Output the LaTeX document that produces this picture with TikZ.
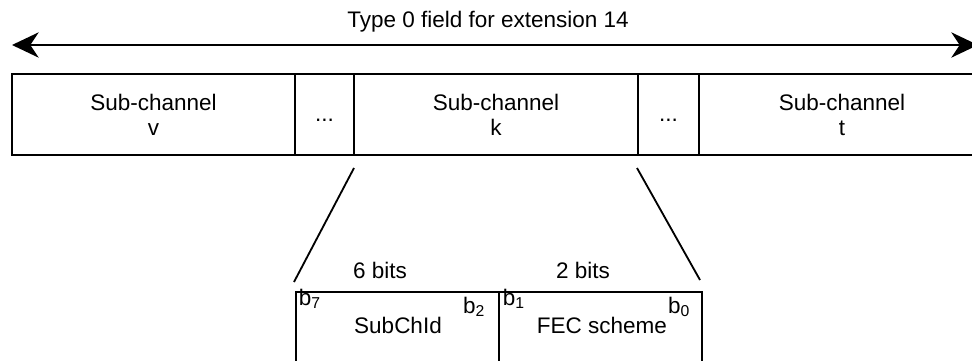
\documentclass[tikz,border=0pt]{standalone}
\usepackage{fontspec}
\setmainfont{Liberation Sans}
\usetikzlibrary{arrows.meta}

\begin{document}
\begin{tikzpicture}[x=0.025cm,y=-0.025cm,line width=1.3pt,
	font=\fontsize{16}{17.8}\selectfont,
	>={Stealth[length=19pt,width=18pt,inset=6pt]},
	field/.style={draw,rectangle,inner sep=0pt,align=center,minimum height=2.025cm},
	part/.style={draw,rectangle,inner sep=0pt,minimum width=5.075cm,minimum height=2.2cm},
	lbl/.style={inner sep=0pt,anchor=base}]

	\useasboundingbox (0,0) rectangle (972,361);
	\clip (0,0) rectangle (972,361);

	\node[lbl] (title) at (488,28) {Type 0 field for extension 14};
	\coordinate (al) at (12,45);
	\coordinate (ar) at (978,45);
	\draw[<->] (al) -- (ar);

	\node[field,minimum width=7.075cm] (subv)  at (153.5,114.5) {Sub-channel\\v};
	\node[field,minimum width=1.475cm] (dotsa) at (324.5,114.5) {};
	\node[field,minimum width=7.1cm]   (subk)  at (496,114.5)   {Sub-channel\\k};
	\node[field,minimum width=1.525cm] (dotsb) at (668.5,114.5) {};
	\node[field,minimum width=7.15cm]  (subt)  at (842,114.5)   {Sub-channel\\t};
	\node[lbl] (dotsatext) at (324.5,121) {...};
	\node[lbl] (dotsbtext) at (668.5,121) {...};

	\node[part] (subchid) at (397.5,336) {};
	\node[part] (fec)     at (600.5,336) {};

	\coordinate (kl) at (354,168);
	\coordinate (kr) at (637,168);
	\coordinate (pl) at (294,282);
	\coordinate (pr) at (700,280);
	\draw (kl) -- (pl);
	\draw (kr) -- (pr);

	\node[lbl] (sixbits) at (380,278) {6 bits};
	\node[lbl] (twobits) at (583,278) {2 bits};
	\node[lbl] (idtext)  at (398,333) {SubChId};
	\node[lbl] (fectext) at (602,333) {FEC scheme};

	\node[lbl,anchor=base west] (bseven) at (298,305) {b\textsubscript{7}};
	\node[lbl,anchor=base east] (btwo)   at (486,313) {b\textsubscript{2}};
	\node[lbl,anchor=base west] (bone)   at (502,305) {b\textsubscript{1}};
	\node[lbl,anchor=base east] (bzero)  at (691,313) {b\textsubscript{0}};

\end{tikzpicture}
\end{document}
